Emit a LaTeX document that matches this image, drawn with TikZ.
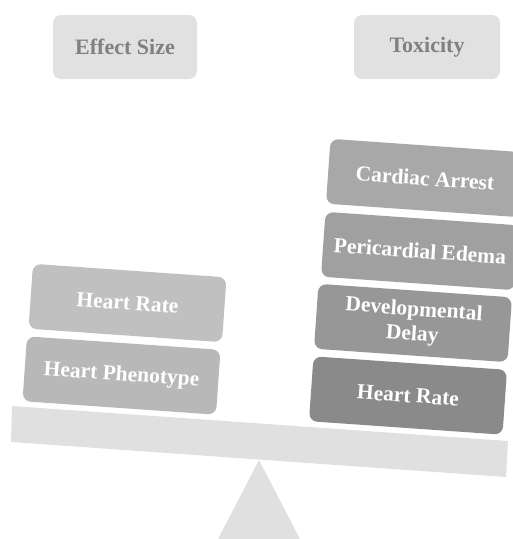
\documentclass[tikz,border=0pt]{standalone}
\usepackage{fontspec}
\setmainfont{Liberation Serif}
\usetikzlibrary{positioning}
\definecolor{beamgray}{HTML}{E0E0E0}
\definecolor{headgray}{HTML}{E1E1E1}
\definecolor{labelgray}{HTML}{808080}

\begin{document}
\begin{tikzpicture}[x=1pt,y=-1pt,
    head/.style={fill=headgray,text=labelgray,rounded corners=8pt,minimum width=144pt,minimum height=64pt,inner sep=0pt,font=\bfseries\fontsize{22}{24}\selectfont},
    weight/.style={text=white,rounded corners=8pt,minimum width=194pt,minimum height=65pt,inner sep=0pt,rotate=-4,align=center,font=\bfseries\fontsize{21.5}{25}\selectfont}]
    \useasboundingbox (0,0) rectangle (513,539);
    % beam and pivot
    \fill[beamgray] (12,406) -- (508,441) -- (506,477) -- (11,442) -- cycle;
    \fill[beamgray] (259,460) -- (300,539) -- (218,539) -- cycle;
    \node[head] (effect) at (125,47) {Effect Size};
    \node[head,minimum width=146pt] (toxicity) at (427,47) {Toxicity};
    % left pan
    \node[weight,fill={rgb,255:red,192;green,192;blue,192}] (hrleft) at (127.5,303) {Heart Rate};
    \node[weight,fill={rgb,255:red,184;green,184;blue,184}] (phenotype) at (121.5,375.5) {Heart Phenotype};
    % right pan
    \foreach \name/\x/\y/\g/\txt in {arrest/425/178/168/{Cardiac Arrest},
        edema/420/251/160/{Pericardial Edema},
        delay/413/323/151/{Developmental\\Delay},
        hrright/408/395.5/138/{Heart Rate}}{
      \node[weight,fill={rgb,255:red,\g;green,\g;blue,\g}] (\name) at (\x,\y) {\txt};
    }
\end{tikzpicture}
\end{document}
